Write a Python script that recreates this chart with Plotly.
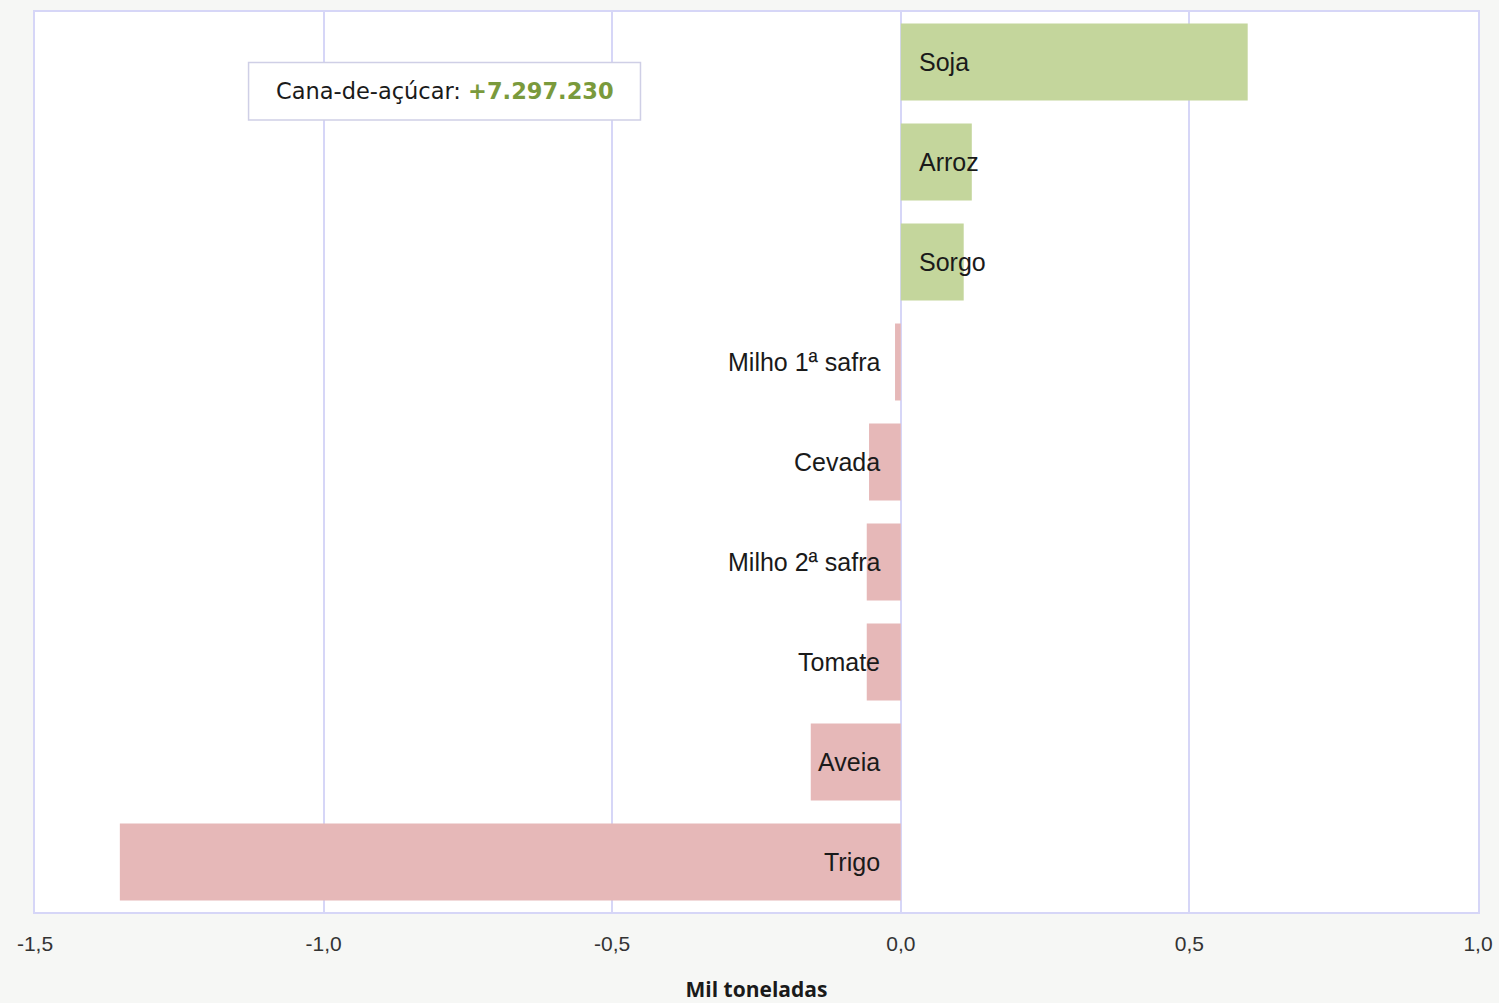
import plotly.graph_objects as go

# Variação da produção por cultura (mil toneladas)
culturas = ["Soja", "Arroz", "Sorgo", "Milho 1ª safra", "Cevada",
            "Milho 2ª safra", "Tomate", "Aveia", "Trigo"]
variacao = [0.601, 0.123, 0.109, -0.010, -0.055, -0.059, -0.059, -0.156, -1.353]
x_ticks = [-1.5, -1.0, -0.5, 0.0, 0.5, 1.0]
x_tick_labels = ["-1,5", "-1,0", "-0,5", "0,0", "0,5", "1,0"]
destaque_nome = "Cana-de-açúcar:"
destaque_valor = "+7.297.230"

VERDE = "#c4d69c"
ROSA = "#e6b8b8"
GRADE = "#d6d6f7"
FONTE = "Liberation Sans"

cores = [VERDE if v >= 0 else ROSA for v in variacao]

fig = go.Figure(go.Bar(
    x=variacao, y=culturas, orientation="h",
    marker=dict(color=cores, line=dict(width=0)),
    hoverinfo="x+y",
))

# rótulos das culturas ancorados no eixo zero
for nome, v in zip(culturas, variacao):
    if v >= 0:
        fig.add_annotation(x=0, y=nome, text=nome, showarrow=False,
                           xanchor="left", yanchor="middle", xshift=16,
                           font=dict(family=FONTE, size=25, color="#1a1a1a"))
    else:
        fig.add_annotation(x=0, y=nome, text=nome, showarrow=False,
                           xanchor="right", yanchor="middle", xshift=-19,
                           font=dict(family=FONTE, size=25, color="#1a1a1a"))

# caixa de destaque da cana-de-açúcar
fig.add_shape(type="rect", xref="x", yref="paper",
              x0=-1.13, x1=-0.451, y0=0.880, y1=0.944,
              line=dict(color="#cfcfe6", width=1.5), fillcolor="white", layer="above")
fig.add_annotation(xref="x", yref="paper", x=-0.79, y=0.912, showarrow=False,
                   xanchor="center", yanchor="middle",
                   text=f"{destaque_nome} <b><span style='color:#7a9a3c'>{destaque_valor}</span></b>",
                   font=dict(family="DejaVu Sans", size=22.5, color="#1a1a1a"))

fig.update_layout(
    width=1499, height=1003,
    paper_bgcolor="#f6f7f5", plot_bgcolor="white",
    margin=dict(l=35, r=21, t=12, b=91, autoexpand=False),
    bargap=0.23, showlegend=False,
    xaxis=dict(range=[-1.5, 1.0], tickvals=x_ticks, ticktext=x_tick_labels,
               automargin=False,
               showgrid=True, gridcolor=GRADE, gridwidth=1.5,
               zeroline=True, zerolinecolor=GRADE, zerolinewidth=2,
               showline=True, linecolor=GRADE, linewidth=2, mirror=True,
               ticks="", ticklen=0, ticklabelstandoff=12,
               tickfont=dict(family=FONTE, size=21, color="#333333"),
               title=dict(text="<b>Mil toneladas</b>", standoff=28,
                          font=dict(family="Open Sans", size=21, color="#1a1a1a"))),
    yaxis=dict(autorange="reversed", showticklabels=False, showgrid=False,
               automargin=False,
               showline=True, linecolor=GRADE, linewidth=2, mirror=True,
               ticks=""),
)

fig.write_html("out.html")
